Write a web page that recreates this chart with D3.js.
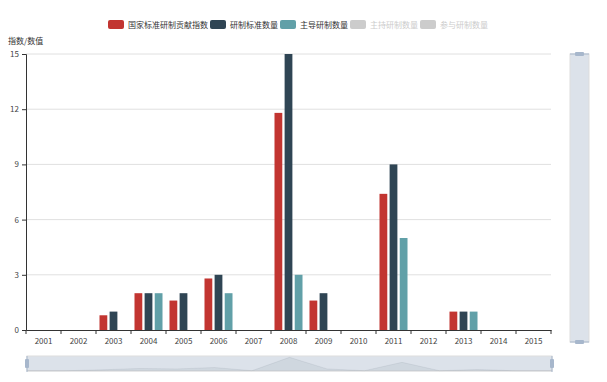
<!DOCTYPE html>
<html>
<head>
<meta charset="utf-8">
<script src="https://cdn.jsdelivr.net/npm/d3@7"></script>
<style>
  body { margin: 0; background: #fff; }
  text { font-family: "Microsoft YaHei", "Noto Sans CJK SC", sans-serif; }
</style>
</head>
<body>
<div id="chart"></div>
<script>
// 国家标准研制 柱状图

const years = ["2001","2002","2003","2004","2005","2006","2007","2008","2009","2010","2011","2012","2013","2014","2015"];
const contribIndex = [0, 0, 0.8, 2, 1.6, 2.8, 0, 11.8, 1.6, 0, 7.4, 0, 1, 0, 0];
const stdCount     = [0, 0, 1, 2, 2, 3, 0, 15, 2, 0, 9, 0, 1, 0, 0];
const leadCount    = [0, 0, 0, 2, 0, 2, 0, 3, 0, 0, 5, 0, 1, 0, 0];
const yTicks = [0, 3, 6, 9, 12, 15];

const legendNames = ["国家标准研制贡献指数", "研制标准数量", "主导研制数量", "主持研制数量", "参与研制数量"];
const legendOn = [true, true, true, false, false];
const colors = ["#c23531", "#2f4554", "#61a0a8", "#ccc", "#ccc"];

const visibleSeries = [contribIndex, stdCount, leadCount];

const W = 607, H = 382;
const plot = { left: 26, right: 551, top: 54, bottom: 330 };

const svg = d3.select("#chart").append("svg")
  .attr("width", W).attr("height", H);

const x = d3.scaleBand().domain(years).range([plot.left, plot.right]).padding(0);
const y = d3.scaleLinear().domain([0, 15]).range([plot.bottom, plot.top]);
const inner = d3.scaleBand().domain(d3.range(visibleSeries.length))
  .range([x.bandwidth() * 0.1, x.bandwidth() * 0.9])
  .paddingInner(0.3 / 1.3).paddingOuter(0);

// grid
svg.append("g").selectAll("line").data(yTicks.filter(d => d > 0)).join("line")
  .attr("x1", plot.left).attr("x2", plot.right)
  .attr("y1", d => y(d)).attr("y2", d => y(d))
  .attr("stroke", "#e0e0e0").attr("stroke-width", 1);

// bars
visibleSeries.forEach((vals, si) => {
  svg.append("g").selectAll("rect").data(vals).join("rect")
    .attr("x", (d, i) => x(years[i]) + inner(si))
    .attr("width", inner.bandwidth())
    .attr("y", d => y(d))
    .attr("height", d => y(0) - y(d))
    .attr("fill", colors[si]);
});

// axes
const yAxis = svg.append("g")
  .attr("transform", `translate(${plot.left},0)`)
  .call(d3.axisLeft(y).tickValues(yTicks).tickSize(4).tickPadding(3));
const xAxis = svg.append("g")
  .attr("transform", `translate(0,${plot.bottom})`)
  .call(d3.axisBottom(x).tickSize(0).tickPadding(8));
// boundary ticks between categories
xAxis.append("g").selectAll("line")
  .data(years.map(yy => x(yy)).concat([plot.right])).join("line")
  .attr("x1", d => d).attr("x2", d => d).attr("y1", 0).attr("y2", 4)
  .attr("stroke", "#333");

[xAxis, yAxis].forEach(a => {
  a.select(".domain").attr("stroke", "#333");
  a.selectAll(".tick line").attr("stroke", "#333");
  a.selectAll("text").attr("fill", "#444").style("font-size", "8px")
    .style("font-family", "'Microsoft YaHei', 'Noto Sans CJK SC', sans-serif");
});

svg.append("text").attr("x", 8).attr("y", 44)
  .attr("font-size", 8).attr("fill", "#333").text("指数/数值");

// legend
const legend = svg.append("g");
let lx = 108;
legendNames.forEach((name, i) => {
  const it = legend.append("g").attr("transform", `translate(${lx},20)`);
  it.append("rect").attr("width", 16).attr("height", 9).attr("rx", 2)
    .attr("fill", colors[i]);
  it.append("text").attr("x", 20).attr("y", 8)
    .attr("font-size", 8).attr("fill", legendOn[i] ? "#333" : "#ccc").text(name);
  lx += 20 + name.length * 8 + 2;
});

// bottom data zoom
const dz = { x0: 27, x1: 552, y0: 356, y1: 371 };
const sx = d3.scalePoint().domain(years).range([dz.x0, dz.x1]);
const sy = d3.scaleLinear().domain([-2, 13]).range([dz.y1 + 2, dz.y0]);
svg.append("rect").attr("x", dz.x0).attr("y", dz.y0)
  .attr("width", dz.x1 - dz.x0).attr("height", dz.y1 - dz.y0)
  .attr("fill", "rgba(167,183,203,0.4)").attr("stroke", "#ddd");
svg.append("path").datum(contribIndex)
  .attr("d", d3.area().x((d, i) => sx(years[i])).y0(dz.y1).y1(d => sy(d)))
  .attr("fill", "rgba(47,69,84,0.07)")
  .attr("stroke", "rgba(47,69,84,0.15)").attr("stroke-width", 0.5);
[dz.x0, dz.x1].forEach(hx => {
  svg.append("rect").attr("x", hx - 2).attr("y", 359).attr("width", 4).attr("height", 9)
    .attr("rx", 1).attr("fill", "#a7b7cc");
  svg.append("line").attr("x1", hx).attr("x2", hx).attr("y1", dz.y0).attr("y2", dz.y1 + 1)
    .attr("stroke", "#a7b7cc");
});

// right data zoom
const vz = { x0: 570, x1: 589, y0: 54, y1: 342 };
svg.append("rect").attr("x", vz.x0).attr("y", vz.y0)
  .attr("width", vz.x1 - vz.x0).attr("height", vz.y1 - vz.y0)
  .attr("fill", "rgba(167,183,203,0.4)").attr("stroke", "#ddd");
[vz.y0, vz.y1].forEach(hy => {
  svg.append("line").attr("x1", vz.x0).attr("x2", vz.x1).attr("y1", hy).attr("y2", hy)
    .attr("stroke", "#a7b7cc");
  svg.append("rect").attr("x", 575).attr("y", hy - 2).attr("width", 9).attr("height", 4)
    .attr("rx", 1).attr("fill", "#a7b7cc");
});
</script>
</body>
</html>
